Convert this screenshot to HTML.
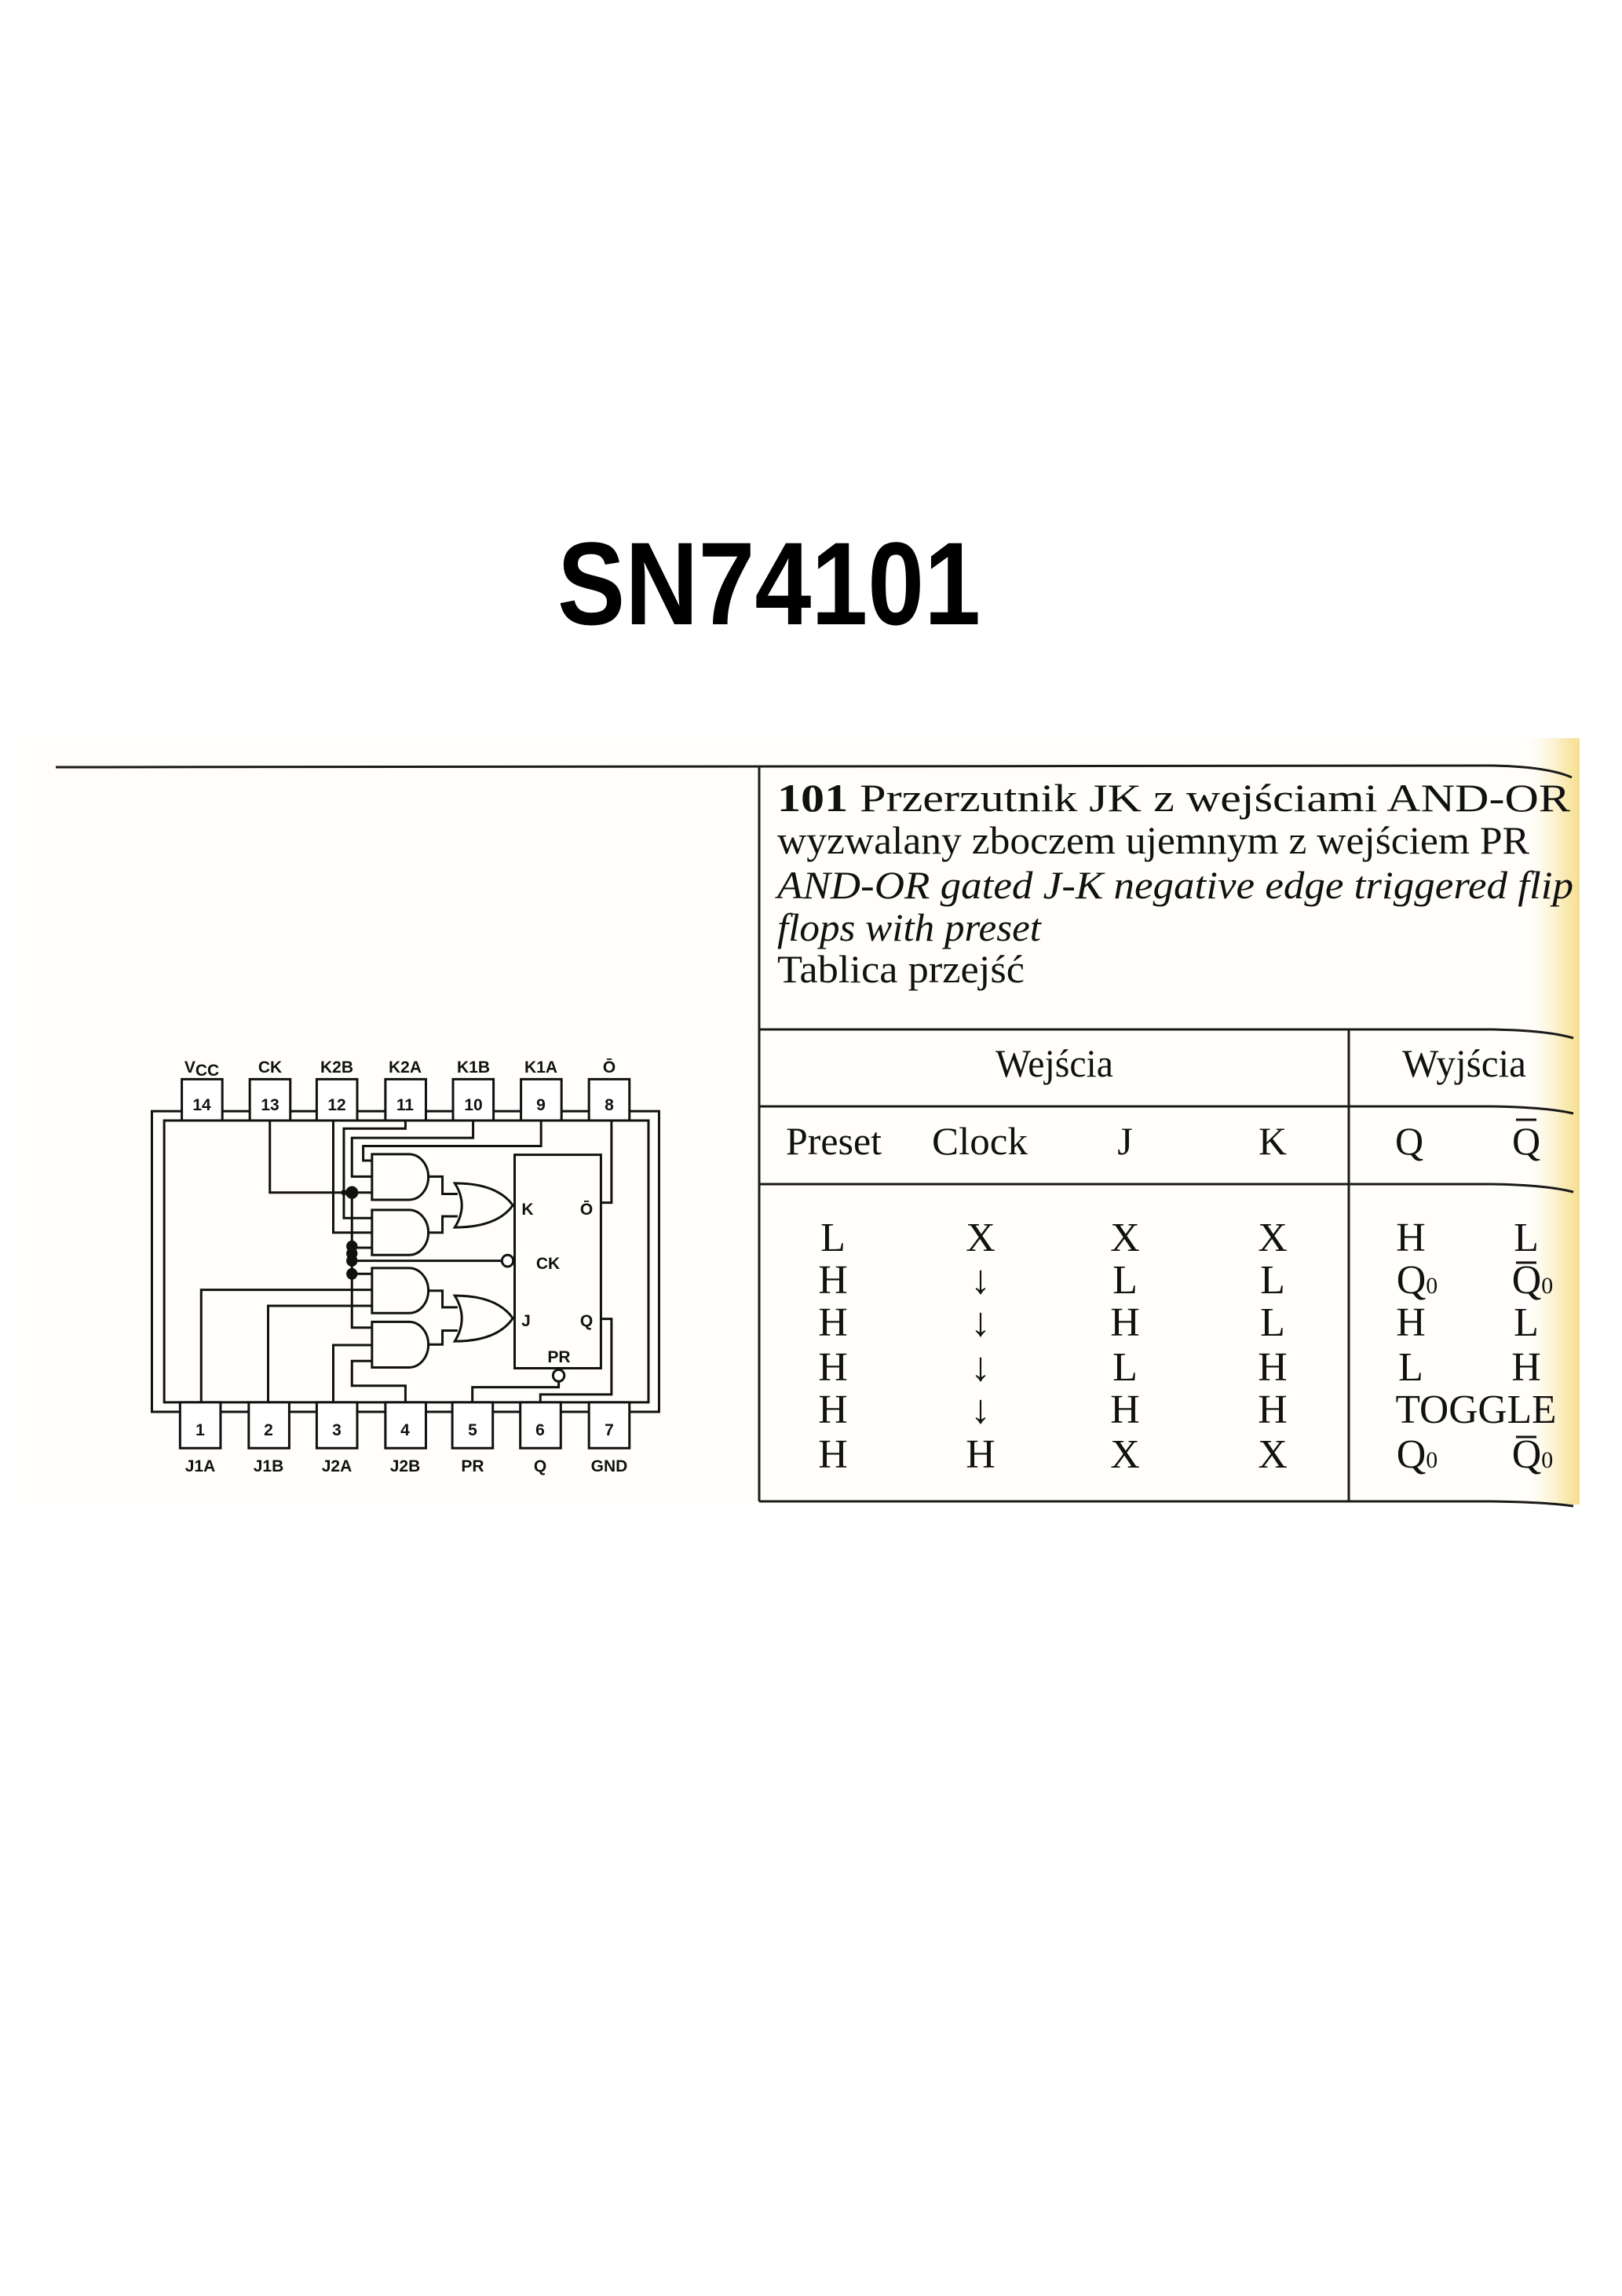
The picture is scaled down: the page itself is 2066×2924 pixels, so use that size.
<!DOCTYPE html>
<html><head><meta charset="utf-8"><style>
html,body{margin:0;padding:0;background:#fff;}
svg{display:block;}
</style></head><body>
<svg width="2066" height="2924" viewBox="0 0 2066 2924" xmlns="http://www.w3.org/2000/svg">
<defs>
<linearGradient id="yel" x1="0" x2="1" y1="0" y2="0">
<stop offset="0" stop-color="#fffefa" stop-opacity="0"/>
<stop offset="0.6" stop-color="#fbf0c8"/>
<stop offset="1" stop-color="#f6df8e"/>
</linearGradient>
</defs>
<rect x="0" y="0" width="2066" height="2924" fill="#fff"/>
<rect x="28" y="940" width="1984" height="976" fill="#fffefa"/>
<rect x="1940" y="940" width="72" height="976" fill="url(#yel)"/>

<text x="710" y="795" font-family="Liberation Sans, sans-serif" font-weight="bold" font-size="150" textLength="539" lengthAdjust="spacingAndGlyphs" fill="#000">SN74101</text>

<g stroke="#1a1a1a" stroke-width="3" fill="none">
<path d="M71 977 L1900 975 Q1970 976 2002 990"/>
<line x1="967" y1="977" x2="967" y2="1912"/>
<path d="M967 1311 L1900 1311 Q1970 1312 2004 1322"/>
<path d="M967 1409 L1900 1409 Q1970 1410 2004 1418"/>
<path d="M967 1508 L1900 1508 Q1970 1509 2004 1518"/>
<path d="M967 1912 L1900 1912 Q1970 1913 2004 1918"/>
<line x1="1718" y1="1311" x2="1718" y2="1912"/>
</g>

<g font-family="Liberation Serif, serif" font-size="50" fill="#111">
<text x="990" y="1033" textLength="1010" lengthAdjust="spacingAndGlyphs"><tspan font-weight="bold">101</tspan> Przerzutnik  JK  z  wejściami  AND-OR</text>
<text x="990" y="1087" textLength="958" lengthAdjust="spacingAndGlyphs">wyzwalany zboczem ujemnym z wejściem PR</text>
<text x="990" y="1144" font-style="italic" textLength="1014" lengthAdjust="spacingAndGlyphs">AND-OR gated J-K negative edge triggered flip</text>
<text x="990" y="1198" font-style="italic" textLength="336" lengthAdjust="spacingAndGlyphs">flops with preset</text>
<text x="990" y="1251" textLength="315" lengthAdjust="spacingAndGlyphs">Tablica przejść</text>
</g>

<g font-family="Liberation Serif, serif" font-size="50" fill="#111" text-anchor="middle">
<text x="1343" y="1371" textLength="150" lengthAdjust="spacingAndGlyphs">Wejścia</text>
<text x="1865" y="1371" textLength="158" lengthAdjust="spacingAndGlyphs">Wyjścia</text>
<text x="1062" y="1470" textLength="122" lengthAdjust="spacingAndGlyphs">Preset</text>
<text x="1248" y="1470" textLength="122" lengthAdjust="spacingAndGlyphs">Clock</text>
<text x="1433" y="1470">J</text>
<text x="1621" y="1470">K</text>
<text x="1795" y="1470">Q</text>
<text x="1944" y="1470">Q</text>
</g>
<line x1="1931" y1="1426" x2="1957" y2="1426" stroke="#111" stroke-width="3"/>

<g font-family="Liberation Serif, serif" font-size="52" fill="#111" text-anchor="middle">
<text x="1061" y="1593">L</text><text x="1249" y="1593">X</text><text x="1433" y="1593">X</text><text x="1621" y="1593">X</text><text x="1797" y="1593">H</text><text x="1944" y="1593">L</text>
<text x="1061" y="1647">H</text><text x="1249" y="1647">↓</text><text x="1433" y="1647">L</text><text x="1621" y="1647">L</text><text x="1805" y="1647">Q<tspan font-size="30">0</tspan></text><text x="1952" y="1647">Q<tspan font-size="30">0</tspan></text>
<text x="1061" y="1701">H</text><text x="1249" y="1701">↓</text><text x="1433" y="1701">H</text><text x="1621" y="1701">L</text><text x="1797" y="1701">H</text><text x="1944" y="1701">L</text>
<text x="1061" y="1758">H</text><text x="1249" y="1758">↓</text><text x="1433" y="1758">L</text><text x="1621" y="1758">H</text><text x="1797" y="1758">L</text><text x="1944" y="1758">H</text>
<text x="1061" y="1812">H</text><text x="1249" y="1812">↓</text><text x="1433" y="1812">H</text><text x="1621" y="1812">H</text><text x="1880" y="1812" textLength="205" lengthAdjust="spacingAndGlyphs">TOGGLE</text>
<text x="1061" y="1869">H</text><text x="1249" y="1869">H</text><text x="1433" y="1869">X</text><text x="1621" y="1869">X</text><text x="1805" y="1869">Q<tspan font-size="30">0</tspan></text><text x="1952" y="1869">Q<tspan font-size="30">0</tspan></text>
</g>
<g stroke="#111" stroke-width="3">
<line x1="1931" y1="1608" x2="1957" y2="1608"/>
<line x1="1931" y1="1830" x2="1957" y2="1830"/>
</g>

<g transform="translate(180,1330) scale(0.4486,0.37)" fill="none" stroke="#111" stroke-width="3" >
<rect x="30" y="230" width="1440" height="1035" vector-effect="non-scaling-stroke"/>
<rect x="65" y="262" width="1375" height="970" vector-effect="non-scaling-stroke"/>
<rect x="1060" y="380" width="245" height="735" vector-effect="non-scaling-stroke"/>
<path d="M655 378 H760 A55 78.5 0 0 1 760 535 H655 Z" vector-effect="non-scaling-stroke"/>
<path d="M655 570 H760 A55 77.5 0 0 1 760 725 H655 Z" vector-effect="non-scaling-stroke"/>
<path d="M655 770 H760 A55 77.5 0 0 1 760 925 H655 Z" vector-effect="non-scaling-stroke"/>
<path d="M655 955 H760 A55 78.5 0 0 1 760 1112 H655 Z" vector-effect="non-scaling-stroke"/>
<path d="M890 478 Q930 554 890 630 Q1010 630 1055 554 Q1010 478 890 478 Z" vector-effect="non-scaling-stroke"/>
<path d="M890 865 Q930 943 890 1022 Q1010 1022 1055 943 Q1010 865 890 865 Z" vector-effect="non-scaling-stroke"/>
<path d="M815 455 H855 V515 H898" vector-effect="non-scaling-stroke"/>
<path d="M815 648 H855 V592 H898" vector-effect="non-scaling-stroke"/>
<path d="M815 848 H855 V905 H898" vector-effect="non-scaling-stroke"/>
<path d="M815 1033 H855 V985 H898" vector-effect="non-scaling-stroke"/>
<path d="M1135 262 V350 H630 V400 H655" vector-effect="non-scaling-stroke"/>
<path d="M942 262 V322 H598 V455 H655" vector-effect="non-scaling-stroke"/>
<path d="M365 262 V510 H655" vector-effect="non-scaling-stroke"/>
<path d="M750 262 V290 H575 V598 H655" vector-effect="non-scaling-stroke"/>
<path d="M545 262 V648 H655" vector-effect="non-scaling-stroke"/>
<path d="M598 510 V975 H655" vector-effect="non-scaling-stroke"/>
<path d="M598 700 H655" vector-effect="non-scaling-stroke"/>
<path d="M598 790 H655" vector-effect="non-scaling-stroke"/>
<path d="M598 745 H1025" vector-effect="non-scaling-stroke"/>
<path d="M170 1240 V845 H655" vector-effect="non-scaling-stroke"/>
<path d="M360 1240 V900 H655" vector-effect="non-scaling-stroke"/>
<path d="M545 1240 V1035 H655" vector-effect="non-scaling-stroke"/>
<path d="M750 1240 V1175 H598 V1090 H655" vector-effect="non-scaling-stroke"/>
<path d="M1305 545 H1335 V262" vector-effect="non-scaling-stroke"/>
<path d="M1305 945 H1335 V1205 H1133 V1240" vector-effect="non-scaling-stroke"/>
<path d="M1185 1160 V1180 H940 V1240" vector-effect="non-scaling-stroke"/>
<ellipse cx="1040" cy="745" rx="16" ry="20" fill="#fff" vector-effect="non-scaling-stroke"/>
<ellipse cx="1185" cy="1140" rx="16" ry="20" fill="#fff" vector-effect="non-scaling-stroke"/>
<g fill="#fff">
<rect x="115" y="120" width="115" height="142" vector-effect="non-scaling-stroke"/>
<rect x="308" y="120" width="115" height="142" vector-effect="non-scaling-stroke"/>
<rect x="498" y="120" width="115" height="142" vector-effect="non-scaling-stroke"/>
<rect x="693" y="120" width="115" height="142" vector-effect="non-scaling-stroke"/>
<rect x="885" y="120" width="115" height="142" vector-effect="non-scaling-stroke"/>
<rect x="1078" y="120" width="115" height="142" vector-effect="non-scaling-stroke"/>
<rect x="1271" y="120" width="115" height="142" vector-effect="non-scaling-stroke"/>
<rect x="110" y="1232" width="115" height="158" vector-effect="non-scaling-stroke"/>
<rect x="305" y="1232" width="115" height="158" vector-effect="non-scaling-stroke"/>
<rect x="498" y="1232" width="115" height="158" vector-effect="non-scaling-stroke"/>
<rect x="693" y="1232" width="115" height="158" vector-effect="non-scaling-stroke"/>
<rect x="883" y="1232" width="115" height="158" vector-effect="non-scaling-stroke"/>
<rect x="1076" y="1232" width="115" height="158" vector-effect="non-scaling-stroke"/>
<rect x="1271" y="1232" width="115" height="158" vector-effect="non-scaling-stroke"/>
</g>
<g fill="#111" stroke="none">
<ellipse cx="598" cy="510" rx="18" ry="22"/>
<ellipse cx="598" cy="695" rx="16" ry="20"/>
<ellipse cx="598" cy="720" rx="16" ry="20"/>
<ellipse cx="598" cy="745" rx="16" ry="20"/>
<ellipse cx="598" cy="790" rx="16" ry="20"/>
<ellipse cx="575" cy="510" rx="8" ry="10"/>
</g>
</g>

<g font-family="Liberation Sans, sans-serif" font-weight="bold" font-size="21" fill="#111" text-anchor="middle">
<text x="257" y="1366">V<tspan dy="4">CC</tspan></text>
<text x="344" y="1366">CK</text>
<text x="429" y="1366">K2B</text>
<text x="516" y="1366">K2A</text>
<text x="603" y="1366">K1B</text>
<text x="689" y="1366">K1A</text>
<text x="776" y="1366">Ō</text>
<g font-size="21">
<text x="257" y="1414">14</text>
<text x="344" y="1414">13</text>
<text x="429" y="1414">12</text>
<text x="516" y="1414">11</text>
<text x="603" y="1414">10</text>
<text x="689" y="1414">9</text>
<text x="776" y="1414">8</text>
<text x="255" y="1828">1</text>
<text x="342" y="1828">2</text>
<text x="429" y="1828">3</text>
<text x="516" y="1828">4</text>
<text x="602" y="1828">5</text>
<text x="688" y="1828">6</text>
<text x="776" y="1828">7</text>
</g>
<text x="255" y="1874">J1A</text>
<text x="342" y="1874">J1B</text>
<text x="429" y="1874">J2A</text>
<text x="516" y="1874">J2B</text>
<text x="602" y="1874">PR</text>
<text x="688" y="1874">Q</text>
<text x="776" y="1874">GND</text>
<text x="672" y="1547">K</text>
<text x="747" y="1547">Ō</text>
<text x="698" y="1616">CK</text>
<text x="670" y="1689">J</text>
<text x="747" y="1689">Q</text>
<text x="712" y="1735">PR</text>
</g>
</svg>
</body></html>
